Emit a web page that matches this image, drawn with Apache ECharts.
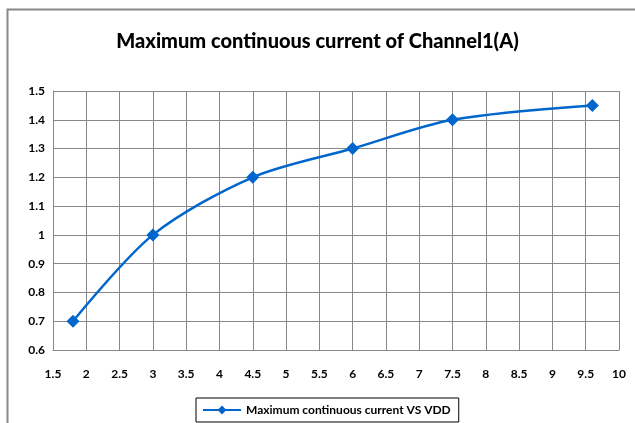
<!DOCTYPE html>
<html><head><meta charset="utf-8">
<script src="https://cdn.jsdelivr.net/npm/echarts@6/dist/echarts.min.js"></script>
<style>html,body{margin:0;padding:0;background:#fff}#c{width:635px;height:423px}</style>
</head><body><div id="c"></div>
<script>
const vdd = [1.8, 3, 4.5, 6, 7.5, 9.6];
const current = [0.7, 1.0, 1.2, 1.3, 1.4, 1.45];
const seriesName = 'Maximum continuous current VS VDD';
const titleText = 'Maximum continuous current of Channel1(A)';

const chart = echarts.init(document.getElementById('c'));
const font = 'Lato, "Liberation Sans", sans-serif';
chart.setOption({
  animation: false,
  title: {text: titleText, left: 'center', top: 27,
    textStyle: {fontFamily: font, fontSize: 20, fontWeight: 900, color: '#000'}},
  grid: {left: 53, right: 16, top: 91, bottom: 73},
  legend: {bottom: 1, left: 196, itemWidth: 38, itemHeight: 11, borderColor: '#000', borderWidth: 1,
    padding: [6, 8, 6, 6], borderRadius: 0, itemGap: 5,
    textStyle: {fontFamily: font, fontSize: 12, fontWeight: 'bold', color: '#000'},
    data: [seriesName]},
  xAxis: {type: 'value', min: 1.5, max: 10, interval: 0.5,
    axisLine: {show: true, lineStyle: {color: '#888'}}, axisTick: {show: false},
    splitLine: {show: true, lineStyle: {color: '#888', width: 1}},
    axisLabel: {margin: 18, fontFamily: font, fontSize: 12, fontWeight: 'bold', color: '#000'}},
  yAxis: {type: 'value', min: 0.6, max: 1.5, interval: 0.1,
    axisLine: {show: true, lineStyle: {color: '#888'}}, axisTick: {show: false},
    splitLine: {show: true, lineStyle: {color: '#888', width: 1}},
    axisLabel: {margin: 8, fontFamily: font, fontSize: 12, fontWeight: 'bold', color: '#000',
      formatter: v => String(Math.round(v*10)/10)}},
  graphic: [{type: 'polyline', shape: {points: [[7.5, 423], [7.5, 9.5], [640, 9.5]]},
    style: {stroke: '#888', lineWidth: 2, fill: null}}],
  series: [{name: seriesName, type: 'line', smooth: 0.3,
    data: vdd.map((x, i) => [x, current[i]]),
    symbol: 'diamond', symbolSize: 13,
    lineStyle: {color: '#0066CC', width: 2.5},
    itemStyle: {color: '#0066CC'}}]
});
</script></body></html>
